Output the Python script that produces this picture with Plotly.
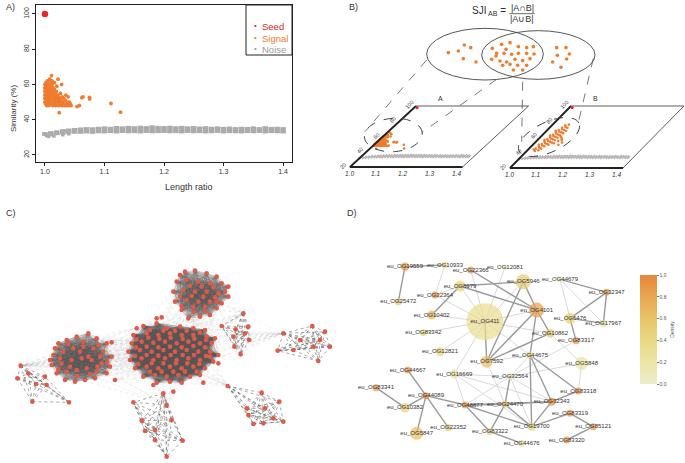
import math
import plotly.graph_objects as go

W, H = 685, 463
FONT = "Liberation Sans, Arial, Helvetica, sans-serif"
SEED_C = "#E8262B"
SIG_C = "#EF7C2F"
NOISE_C = "#ABABAB"


def xdom(a, b):
    return [a / W, b / W]


def ydom(top, bottom):
    return [1 - bottom / H, 1 - top / H]


# ---------------- Panel A data ----------------
seed_x = [1.0]
seed_y = [100]

signal_pts = [
    (1.000, 50), (1.000, 52), (1.000, 54), (1.000, 56), (1.000, 58), (1.000, 60), (1.001, 49), (1.001, 53),
    (1.001, 57), (1.002, 51), (1.002, 55), (1.002, 59), (1.002, 61), (1.003, 48), (1.003, 50), (1.003, 53),
    (1.003, 56), (1.004, 52), (1.004, 58), (1.004, 62), (1.005, 49), (1.005, 54), (1.005, 57), (1.006, 51),
    (1.006, 55), (1.006, 60), (1.007, 48), (1.007, 53), (1.007, 58), (1.008, 50), (1.008, 56), (1.008, 63),
    (1.009, 52), (1.009, 54), (1.009, 61), (1.010, 49), (1.010, 57), (1.010, 59), (1.011, 51), (1.011, 55),
    (1.011, 65), (1.012, 53), (1.012, 60), (1.012, 62), (1.013, 48), (1.013, 56), (1.014, 50), (1.014, 58),
    (1.015, 52), (1.015, 54), (1.016, 49), (1.016, 57), (1.016, 61), (1.017, 51), (1.017, 55), (1.018, 48),
    (1.018, 53), (1.019, 50), (1.019, 56), (1.020, 52), (1.020, 59), (1.021, 49), (1.021, 54), (1.022, 51),
    (1.022, 63), (1.023, 48), (1.023, 53), (1.024, 44), (1.024, 50), (1.025, 52), (1.026, 49), (1.026, 55),
    (1.027, 51), (1.028, 48), (1.028, 60), (1.029, 53), (1.030, 50), (1.031, 49), (1.032, 52), (1.033, 48),
    (1.034, 51), (1.035, 54), (1.036, 49), (1.037, 48), (1.038, 50), (1.039, 53), (1.040, 48), (1.041, 50),
    (1.043, 49), (1.044, 48), (1.054, 47.5), (1.058, 48), (1.062, 52.5), (1.064, 53), (1.075, 52.7),
    (1.075, 51.8), (1.111, 49.2), (1.127, 44.3),
]
signal_x = [p[0] for p in signal_pts]
signal_y = [p[1] for p in signal_pts]

noise_x = [1.00, 1.01, 1.02, 1.03, 1.04, 1.05, 1.06, 1.07, 1.08, 1.09, 1.10, 1.11, 1.12, 1.13,
           1.14, 1.15, 1.16, 1.17, 1.18, 1.19, 1.20, 1.21, 1.22, 1.23, 1.24, 1.25, 1.26, 1.27,
           1.28, 1.29, 1.30, 1.31, 1.32, 1.33, 1.34, 1.35, 1.36, 1.37, 1.38, 1.39, 1.40]
noise_lo = [30.8, 31.0, 31.2, 31.5, 31.8, 32.0, 32.0, 32.2, 32.0, 32.3, 32.2, 32.4, 32.2, 32.5,
            32.3, 32.4, 32.2, 32.5, 32.3, 32.4, 32.5, 32.3, 32.4, 32.2, 32.5, 32.3, 32.4, 32.2,
            32.3, 32.5, 32.2, 32.4, 32.3, 32.2, 32.4, 32.3, 32.5, 32.2, 32.4, 32.3, 32.2]
noise_hi = [33.0, 33.5, 34.0, 34.6, 35.0, 35.3, 35.6, 35.8, 35.7, 36.0, 36.2, 36.0, 36.4, 36.2,
            36.5, 36.3, 36.6, 36.4, 36.8, 36.5, 36.4, 36.6, 36.3, 36.5, 36.2, 36.4, 36.1, 36.3,
            36.0, 36.2, 35.9, 36.1, 35.8, 36.0, 35.9, 36.2, 35.8, 36.3, 35.9, 36.0, 35.8]
noise_pts_x = [1.003, 1.006, 1.010, 1.015, 1.020, 1.030, 1.035, 1.040]
noise_pts_y = [31.0, 30.5, 31.5, 30.8, 32.3, 31.5, 33.5, 32.0]

# second genome (panel B, right sketch)
signal_b_pts = [
    (1.030, 42), (1.040, 43), (1.025, 45), (1.035, 46), (1.045, 45), (1.028, 48), (1.038, 49), (1.048, 48),
    (1.058, 50), (1.030, 51), (1.040, 52), (1.050, 51), (1.062, 53), (1.072, 52), (1.032, 54), (1.042, 55),
    (1.052, 54), (1.064, 56), (1.080, 55), (1.034, 57), (1.044, 58), (1.054, 57), (1.066, 59), (1.085, 58),
    (1.036, 60), (1.046, 61), (1.056, 60), (1.068, 62), (1.038, 63), (1.048, 64), (1.058, 63), (1.070, 65),
    (1.040, 66), (1.050, 67), (1.060, 66), (1.072, 68), (1.042, 69), (1.052, 70), (1.062, 69), (1.046, 72),
    (1.056, 73), (1.066, 72), (1.050, 75), (1.060, 76), (1.090, 56), (1.095, 50), (1.020, 44), (1.022, 50),
    (1.026, 56), (1.030, 62), (1.034, 68), (1.100, 53), (1.076, 60),
]
signal_b_x = [p[0] for p in signal_b_pts]
signal_b_y = [p[1] for p in signal_b_pts]

a_xticks = [1.0, 1.1, 1.2, 1.3, 1.4]
a_yticks = [20, 40, 60, 80, 100]
legend_labels = ["Seed", "Signal", "Noise"]
legend_colors = [SEED_C, SIG_C, "#9A9A9A"]

# ---------------- Panel B diagram (sketch units, 3 per pixel) ----------------
venn_x = [355, 385, 403, 422, 400, 438,
          487, 515, 540, 565, 590, 610, 500, 522, 545, 565, 590, 612, 485, 510, 530, 555, 578, 600,
          518, 540, 563, 590, 550, 578, 498, 528,
          680, 708, 682, 718, 668, 710, 693]
venn_y = [158, 153, 135, 143, 176, 186,
          145, 133, 128, 140, 143, 140, 160, 160, 163, 160, 160, 162, 178, 183, 186, 178, 182, 176,
          196, 193, 196, 196, 210, 210, 168, 148,
          143, 143, 166, 162, 186, 177, 202]

# ---------------- Panel C data (layout coordinates) ----------------
c_left = [(175, 430), (200, 420), (230, 410), (265, 400), (290, 415), (320, 430), (160, 465), (190, 455),
          (220, 445), (250, 440), (280, 445), (310, 455), (335, 470), (155, 495), (185, 490), (215, 480),
          (245, 475), (275, 480), (305, 490), (330, 500), (170, 520), (200, 515), (230, 510), (260, 505),
          (290, 515), (320, 520), (195, 540), (225, 545), (255, 540), (285, 535), (240, 455), (265, 470),
          (210, 500), (300, 470), (180, 475), (205, 432), (250, 425), (295, 435), (175, 508), (232, 528),
          (292, 500), (322, 485), (165, 445), (270, 522), (150, 480)]
c_main = [(430, 378), (470, 370), (500, 385), (540, 380), (580, 385), (615, 390),
          (400, 405), (440, 400), (475, 405), (510, 400), (545, 405), (580, 405), (620, 410), (645, 415),
          (395, 430), (425, 425), (460, 428), (495, 425), (530, 430), (565, 425), (600, 430), (635, 430),
          (385, 455), (420, 450), (455, 455), (490, 450), (525, 455), (560, 450), (595, 455), (630, 455),
          (655, 465), (390, 480), (425, 475), (460, 480), (495, 475), (530, 480), (565, 475), (600, 480),
          (640, 485), (405, 505), (440, 500), (475, 505), (510, 500), (545, 505), (580, 500), (615, 505),
          (430, 530), (465, 525), (500, 530), (535, 525), (570, 530), (600, 525), (470, 548), (510, 545),
          (545, 548), (450, 390), (490, 392), (525, 392), (560, 392), (600, 398), (410, 418), (445, 413),
          (478, 416), (512, 413), (548, 417), (583, 416), (618, 420), (408, 442), (440, 440), (475, 442),
          (510, 440), (545, 442), (580, 438), (615, 442), (405, 468), (440, 465), (475, 467), (512, 465),
          (548, 465), (582, 465), (618, 468), (415, 492), (455, 490), (490, 490), (528, 490), (562, 490),
          (598, 492), (630, 470), (450, 515), (485, 515), (520, 515), (555, 515), (590, 515)]
c_upper = [(555, 215), (585, 212), (620, 220), (650, 230), (530, 245), (560, 240), (595, 245), (630, 250),
           (665, 250), (685, 260), (520, 275), (550, 270), (585, 275), (620, 275), (655, 280), (685, 290),
           (525, 305), (560, 300), (595, 305), (630, 305), (665, 310), (545, 330), (580, 335), (615, 335),
           (650, 325), (565, 355), (600, 350), (630, 345), (570, 258), (605, 260), (640, 262), (540, 290),
           (575, 288), (610, 290), (645, 292), (545, 318), (580, 320), (615, 320), (650, 305), (540, 225),
           (675, 275)]
c_s1 = [(730, 340), (745, 380), (748, 420), (722, 463), (703, 440), (707, 388), (665, 378), (700, 410), (735, 400)]
c_s2 = [(850, 400), (937, 378), (975, 395), (990, 440), (940, 440), (955, 483), (880, 450), (833, 452),
        (900, 420), (960, 420)]
c_s3 = [(62, 497), (52, 535), (97, 605), (207, 607), (108, 552), (135, 530), (140, 555), (85, 520)]
c_s4 = [(500, 615), (425, 662), (515, 660), (435, 693), (465, 720), (548, 722), (500, 770), (490, 580),
        (400, 607), (465, 690)]
c_s5 = [(683, 558), (785, 578), (740, 625), (838, 605), (795, 625), (760, 672), (790, 670), (850, 665),
        (820, 655), (745, 645)]
c_loose = [(345, 540), (655, 490), (610, 548), (520, 575), (460, 555), (335, 427), (410, 385), (470, 355),
           (485, 352)]
c_dense = {"left": c_left, "main": c_main, "upper": c_upper}
c_sparse = {"s1": c_s1, "s2": c_s2, "s3": c_s3, "s4": c_s4, "s5": c_s5}
c_links = [("left", "main"), ("main", "upper"), ("main", "s1"), ("s1", "s2"), ("main", "s4"),
           ("main", "s5"), ("left", "s3"), ("main", "s3"), ("upper", "s1"), ("main", "s2"),
           ("left", "s4"), ("loose", "main")]

# ---------------- Panel D data ----------------
d_names = ["eu_OG19559", "eu_OG10933", "eu_OG22366", "eu_OG12081", "eu_OG5946", "eu_OG8979",
           "eu_OG32364", "eu_OG25472", "eu_OG10402", "eu_OG411", "eu_OG4101", "eu_OG83342",
           "eu_OG44679", "eu_OG32347", "eu_OG6476", "eu_OG17967", "eu_OG10862", "eu_OG83317",
           "eu_OG12821", "eu_OG7592", "eu_OG44675", "eu_OG5848", "eu_OG16669", "eu_OG32564",
           "eu_OG44667", "eu_OG83341", "eu_OG44089", "eu_OG10382", "eu_OG48877", "eu_OG24470",
           "eu_OG32343", "eu_OG83318", "eu_OG83319", "eu_OG85121", "eu_OG83320", "eu_OG19700",
           "eu_OG83322", "eu_OG44676", "eu_OG22352", "eu_OG5847"]
d_x = [165, 285, 362, 465, 520, 330, 255, 145, 245, 405, 560, 220, 630, 770, 660, 760, 600, 678, 270, 410,
       540, 695, 313, 480, 173, 78, 228, 165, 345, 465, 605, 685, 660, 730, 650, 545, 420, 515, 295, 200]
d_y = [50, 45, 60, 52, 95, 108, 135, 155, 195, 215, 180, 248, 88, 127, 205, 220, 250, 272, 305, 335,
       315, 340, 372, 380, 360, 413, 437, 473, 465, 463, 455, 423, 490, 530, 570, 530, 545, 580, 533, 550]
d_size = [8.5, 7, 7, 6, 15, 11, 7, 7, 9, 37, 15, 7, 6, 7, 11, 7, 9, 7, 9, 12,
          7, 13, 9, 6, 7, 7, 7, 10, 7, 7, 8, 7, 7, 7, 7, 8, 7, 7, 7, 13]
d_density = [0.9, 0.3, 0.9, 0.1, 0.55, 0.45, 0.9, 0.6, 0.7, 0.35, 0.85, 0.45, 0.2, 0.9, 0.5, 0.3, 0.55,
             0.95, 0.45, 0.65, 0.45, 0.25, 0.25, 0.2, 0.9, 0.9, 0.95, 0.45, 0.85, 0.55, 0.95, 0.9, 0.9,
             0.9, 0.9, 0.45, 0.45, 0.25, 0.55, 0.65]
d_edges_dark = [
    ("eu_OG19559", "eu_OG25472"), ("eu_OG19559", "eu_OG10933"), ("eu_OG8979", "eu_OG10402"),
    ("eu_OG8979", "eu_OG5946"), ("eu_OG8979", "eu_OG4101"), ("eu_OG22366", "eu_OG4101"),
    ("eu_OG5946", "eu_OG4101"), ("eu_OG5946", "eu_OG7592"), ("eu_OG4101", "eu_OG7592"),
    ("eu_OG4101", "eu_OG44675"), ("eu_OG4101", "eu_OG10862"), ("eu_OG411", "eu_OG7592"),
    ("eu_OG10862", "eu_OG7592"), ("eu_OG44679", "eu_OG32347"), ("eu_OG32347", "eu_OG6476"),
    ("eu_OG32347", "eu_OG17967"), ("eu_OG6476", "eu_OG17967"), ("eu_OG6476", "eu_OG83317"),
    ("eu_OG44675", "eu_OG32343"), ("eu_OG44675", "eu_OG19700"), ("eu_OG44675", "eu_OG83318"),
    ("eu_OG32564", "eu_OG24470"), ("eu_OG44667", "eu_OG44089"), ("eu_OG83341", "eu_OG10382"),
    ("eu_OG44089", "eu_OG10382"), ("eu_OG44089", "eu_OG5847"), ("eu_OG44089", "eu_OG22352"),
    ("eu_OG44089", "eu_OG48877"), ("eu_OG48877", "eu_OG32343"), ("eu_OG48877", "eu_OG24470"),
    ("eu_OG48877", "eu_OG83322"), ("eu_OG48877", "eu_OG19700"), ("eu_OG24470", "eu_OG32343"),
    ("eu_OG24470", "eu_OG19700"), ("eu_OG24470", "eu_OG83322"), ("eu_OG32343", "eu_OG83318"),
    ("eu_OG32343", "eu_OG19700"), ("eu_OG19700", "eu_OG83319"), ("eu_OG83319", "eu_OG85121"),
    ("eu_OG85121", "eu_OG83320"), ("eu_OG83322", "eu_OG44676"),
]
d_edges_light = [
    ("eu_OG10933", "eu_OG32364"), ("eu_OG8979", "eu_OG411"), ("eu_OG22366", "eu_OG411"),
    ("eu_OG12081", "eu_OG411"), ("eu_OG5946", "eu_OG411"), ("eu_OG4101", "eu_OG411"),
    ("eu_OG32364", "eu_OG411"), ("eu_OG10402", "eu_OG411"), ("eu_OG83342", "eu_OG411"),
    ("eu_OG12821", "eu_OG411"), ("eu_OG411", "eu_OG10862"), ("eu_OG411", "eu_OG16669"),
    ("eu_OG411", "eu_OG44675"), ("eu_OG10862", "eu_OG5848"), ("eu_OG44679", "eu_OG6476"),
    ("eu_OG44679", "eu_OG17967"), ("eu_OG83317", "eu_OG32564"), ("eu_OG5848", "eu_OG32564"),
    ("eu_OG5848", "eu_OG83318"), ("eu_OG44675", "eu_OG7592"), ("eu_OG44675", "eu_OG32564"),
    ("eu_OG32564", "eu_OG19700"), ("eu_OG32564", "eu_OG32343"), ("eu_OG32564", "eu_OG48877"),
    ("eu_OG32564", "eu_OG16669"), ("eu_OG16669", "eu_OG48877"), ("eu_OG16669", "eu_OG19700"),
    ("eu_OG16669", "eu_OG32343"), ("eu_OG7592", "eu_OG24470"), ("eu_OG8979", "eu_OG32364"),
]
d_colorscale = [[0.0, "#EEEDCA"], [0.2, "#ECE5A6"], [0.4, "#E9D884"], [0.6, "#E8C46A"],
                [0.8, "#E8A752"], [1.0, "#E8853B"]]

fig = go.Figure()

# ================= Panel A =================
band_x, band_y = [], []
for xv, lo, hi in zip(noise_x, noise_lo, noise_hi):
    band_x += [xv, xv, None]
    band_y += [lo, hi, None]
fig.add_trace(go.Scatter(x=band_x, y=band_y, mode="lines", xaxis="x", yaxis="y", name="Noise",
                         line=dict(color=NOISE_C, width=5.6), hoverinfo="skip"))
fig.add_trace(go.Scatter(x=noise_pts_x, y=noise_pts_y, mode="markers", xaxis="x", yaxis="y",
                         marker=dict(color=NOISE_C, size=3.5, symbol="square"), name="Noise"))
fig.add_trace(go.Scatter(x=signal_x, y=signal_y, mode="markers", xaxis="x", yaxis="y",
                         marker=dict(color=SIG_C, size=3.8), name="Signal"))
fig.add_trace(go.Scatter(x=seed_x, y=seed_y, mode="markers", xaxis="x", yaxis="y",
                         marker=dict(color=SEED_C, size=6.5), name="Seed"))

# ================= Panel B mini sketches =================
mini_specs = [
    ("3", signal_x, signal_y, 350, 167, 268, 66 / 80, 61 / 80, (338, 545, 95, 178), "A"),
    ("4", signal_b_x, signal_b_y, 510, 168, 269, 61 / 80, 62 / 80, (498, 685, 95, 178), "B"),
]
frame_x = [1.0, 1.42]
frame_y = [20, 100]
annotations = []
layout_axes = {}
for suf, sx, sy, ox, oy, kx, dxy, dyy, dom, lab in mini_specs:
    shear = dxy / kx
    xr = [1.0 + (dom[0] - ox) / kx, 1.0 + (dom[1] - ox) / kx]
    yr = [20 + (oy - dom[3]) / dyy, 20 + (oy - dom[2]) / dyy]
    layout_axes["xaxis" + suf] = dict(domain=xdom(dom[0], dom[1]), range=xr, visible=False,
                                      anchor="y" + suf, fixedrange=True)
    layout_axes["yaxis" + suf] = dict(domain=ydom(dom[2], dom[3]), range=yr, visible=False,
                                      anchor="x" + suf, fixedrange=True)

    def tf(x, y, s=shear):
        return x + (y - 20) * s

    bx, by = [], []
    for xv, lo, hi in zip(noise_x, noise_lo, noise_hi):
        bx += [tf(xv, lo), tf(xv, hi), None]
        by += [lo, hi, None]
    fig.add_trace(go.Scatter(x=bx, y=by, mode="lines", xaxis="x" + suf, yaxis="y" + suf,
                             showlegend=False, line=dict(color="#B8B8B8", width=2.6), hoverinfo="skip"))
    fig.add_trace(go.Scatter(x=[tf(a, b) for a, b in zip(sx, sy)], y=sy, mode="markers",
                             xaxis="x" + suf, yaxis="y" + suf, showlegend=False,
                             marker=dict(color=SIG_C, size=2.6), hoverinfo="skip"))
    x0, x1 = frame_x
    y0, y1 = frame_y
    fig.add_trace(go.Scatter(x=[tf(x0, y1), tf(x1, y1), tf(x1, y0)], y=[y1, y1, y0], mode="lines",
                             xaxis="x" + suf, yaxis="y" + suf, showlegend=False,
                             line=dict(color="#333", width=0.8), hoverinfo="skip"))
    fig.add_trace(go.Scatter(x=[tf(x0, y1), tf(x0, y0), tf(x1, y0)], y=[y1, y0, y0], mode="lines",
                             xaxis="x" + suf, yaxis="y" + suf, showlegend=False,
                             line=dict(color="#222", width=1.8), hoverinfo="skip"))
    fig.add_trace(go.Scatter(x=[tf(seed_x[0] + 0.01, seed_y[0] - 2)], y=[seed_y[0] - 2], mode="markers",
                             xaxis="x" + suf, yaxis="y" + suf, showlegend=False,
                             marker=dict(color=SEED_C, size=3.2), hoverinfo="skip"))
    for yt in a_yticks:
        annotations.append(dict(x=tf(1.0, yt), y=yt, xref="x" + suf, yref="y" + suf, text=str(yt),
                                showarrow=False, textangle=-48, xshift=-7, yshift=1,
                                font=dict(size=5.5, color="#333")))
    for xt in a_xticks:
        annotations.append(dict(x=xt, y=20, xref="x" + suf, yref="y" + suf,
                                text="<i>%.1f</i>" % xt, showarrow=False, yshift=-6, xshift=-1,
                                font=dict(size=6.5, color="#333")))
    annotations.append(dict(x=tf(1.0 + (x1 - x0) * 0.22, y1), y=y1, xref="x" + suf, yref="y" + suf,
                            text=lab, showarrow=False, yshift=8, font=dict(size=7, color="#333")))

# ================= Panel B diagram (sketch axis x2) =================
fig.add_trace(go.Scatter(x=venn_x, y=venn_y, mode="markers", xaxis="x2", yaxis="y2", showlegend=False,
                         marker=dict(color=SIG_C, size=3.6), hoverinfo="skip"))


def ellipse_path(cx, cy, rx, ry, ang):
    k = 0.5523
    c, s = math.cos(math.radians(ang)), math.sin(math.radians(ang))

    def P(x, y):
        return "%.2f,%.2f" % (cx + x * c - y * s, cy - (x * s + y * c))

    segs = [[(rx, k * ry), (k * rx, ry), (0, ry)], [(-k * rx, ry), (-rx, k * ry), (-rx, 0)],
            [(-rx, -k * ry), (-k * rx, -ry), (0, -ry)], [(k * rx, -ry), (rx, -k * ry), (rx, 0)]]
    d = "M" + P(rx, 0)
    for sg in segs:
        d += " C" + " ".join(P(*p) for p in sg)
    return d + " Z"


dash_line = dict(color="#555", width=0.8, dash="dash")
ell_line = dict(color="#444", width=1.0, dash="dash")
shapes = [
    dict(type="circle", xref="x2", yref="y2", x0=290, x1=640, y0=85, y1=240,
         line=dict(color="#444", width=0.9)),
    dict(type="circle", xref="x2", yref="y2", x0=455, x1=795, y0=92, y1=238,
         line=dict(color="#444", width=0.9)),
    dict(type="path", xref="x2", yref="y2", path=ellipse_path(190, 405, 87, 50, 4), line=ell_line),
    dict(type="path", xref="x2", yref="y2", path=ellipse_path(657, 411, 99, 45, 25), line=ell_line),
    dict(type="line", xref="x2", yref="y2", x0=290, y0=180, x1=105, y1=395, line=dash_line),
    dict(type="line", xref="x2", yref="y2", x0=500, y0=238, x1=275, y1=398, line=dash_line),
    dict(type="line", xref="x2", yref="y2", x0=578, y0=245, x1=575, y1=425, line=dash_line),
    dict(type="line", xref="x2", yref="y2", x0=790, y0=175, x1=745, y1=368, line=dash_line),
    dict(type="line", xref="x2", yref="y2", x0=538, y0=41, x1=614, y1=41,
         line=dict(color="#444", width=0.8)),
    # panel A legend box
    dict(type="rect", xref="paper", yref="paper", x0=246 / W, x1=292 / W, y0=1 - 55 / H, y1=1 - 5 / H,
         line=dict(color="#222", width=1), fillcolor="white", layer="below"),
]
annotations += [
    dict(x=478, y=34, xref="x2", yref="y2", text="SJI<sub> AB</sub> =", showarrow=False,
         font=dict(size=10, color="#333")),
    dict(x=576, y=24, xref="x2", yref="y2", text="|A∩B|", showarrow=False, font=dict(size=9, color="#333")),
    dict(x=576, y=58, xref="x2", yref="y2", text="|A∪B|", showarrow=False, font=dict(size=9, color="#333")),
]
for i, (lab, col) in enumerate(zip(legend_labels, legend_colors)):
    yy = 1 - (19.5 + 11.3 * i) / H
    annotations.append(dict(x=256 / W, y=yy, xref="paper", yref="paper", text="•", showarrow=False,
                            font=dict(size=8, color=col)))
    annotations.append(dict(x=259.5 / W, y=yy, xref="paper", yref="paper", text=lab, showarrow=False,
                            xanchor="left", font=dict(size=9.5, color=col)))

# ================= Panel C =================
def pairs_all(nodes):
    ex, ey = [], []
    for i in range(len(nodes)):
        for j in range(i + 1, len(nodes)):
            ex += [nodes[i][0], nodes[j][0], None]
            ey += [nodes[i][1], nodes[j][1], None]
    return ex, ey


all_groups = dict(c_dense)
all_groups.update(c_sparse)
all_groups["loose"] = c_loose
lx, ly = [], []
for a, b in c_links:
    ga, gb = all_groups[a], all_groups[b]
    for p in ga[::4]:
        for q in gb[::12]:
            lx += [p[0], q[0], None]
            ly += [p[1], q[1], None]
fig.add_trace(go.Scatter(x=lx, y=ly, mode="lines", xaxis="x5", yaxis="y5", showlegend=False,
                         line=dict(color="rgba(130,130,130,0.18)", width=0.5, dash="dot"),
                         hoverinfo="skip"))
for nodes in c_sparse.values():
    ex, ey = pairs_all(nodes)
    fig.add_trace(go.Scatter(x=ex, y=ey, mode="lines", xaxis="x5", yaxis="y5", showlegend=False,
                             line=dict(color="rgba(60,60,60,0.75)", width=0.6, dash="dot"),
                             hoverinfo="skip"))
for nodes in c_dense.values():
    ex, ey = pairs_all(nodes)
    fig.add_trace(go.Scatter(x=ex, y=ey, mode="lines", xaxis="x5", yaxis="y5", showlegend=False,
                             line=dict(color="rgba(88,88,88,0.35)", width=0.5), hoverinfo="skip"))
c_all = [p for g in all_groups.values() for p in g]
fig.add_trace(go.Scatter(x=[p[0] for p in c_all], y=[p[1] for p in c_all], mode="markers",
                         xaxis="x5", yaxis="y5", showlegend=False,
                         marker=dict(color="#E05A48", size=4.6), hoverinfo="skip"))

# ================= Panel D =================
d_pos = {n: (x, y) for n, x, y in zip(d_names, d_x, d_y)}
for edges, col, wd in [(d_edges_light, "#DADADA", 1.0), (d_edges_dark, "#9A9A9A", 1.4)]:
    ex, ey = [], []
    for a, b in edges:
        ex += [d_pos[a][0], d_pos[b][0], None]
        ey += [d_pos[a][1], d_pos[b][1], None]
    fig.add_trace(go.Scatter(x=ex, y=ey, mode="lines", xaxis="x6", yaxis="y6", showlegend=False,
                             line=dict(color=col, width=wd), hoverinfo="skip"))
fig.add_trace(go.Scatter(
    x=d_x, y=d_y, mode="markers", xaxis="x6", yaxis="y6", showlegend=False,
    marker=dict(size=d_size, color=d_density, colorscale=d_colorscale, cmin=0, cmax=1,
                line=dict(width=0), showscale=True,
                colorbar=dict(x=640 / W, xanchor="left", y=1 - 329.5 / H, yanchor="middle",
                              len=109 / H, lenmode="fraction", thickness=17, thicknessmode="pixels",
                              xpad=0, ypad=0, outlinewidth=0, ticks="outside", ticklen=2,
                              tickcolor="#777", tickvals=[0, 0.2, 0.4, 0.6, 0.8, 1.0],
                              ticktext=["0.0", "0.2", "0.4", "0.6", "0.8", "1.0"],
                              tickfont=dict(size=5, color="#555"),
                              title=dict(text="Density", side="right", font=dict(size=5, color="#555")))),
    hoverinfo="skip"))
fig.add_trace(go.Scatter(x=d_x, y=d_y, mode="text", text=d_names, xaxis="x6", yaxis="y6",
                         showlegend=False, textfont=dict(size=6, color="#333"), hoverinfo="skip"))

# ================= Layout =================
axis_a = dict(showline=True, mirror=True, linecolor="#222", linewidth=1, ticks="outside", ticklen=3,
              tickcolor="#222", tickfont=dict(size=7, color="#333"), showgrid=False, zeroline=False,
              fixedrange=True, automargin=False)
layout_axes["xaxis"] = dict(axis_a, domain=xdom(36, 292), range=[0.985, 1.415], tickvals=a_xticks,
                            ticktext=["%.1f" % v for v in a_xticks], anchor="y")
layout_axes["yaxis"] = dict(axis_a, domain=ydom(5, 162), range=[16.0, 105.1], tickvals=a_yticks,
                            tickangle=-90, anchor="x")
layout_axes["xaxis2"] = dict(domain=xdom(330, 685), range=[0, 1065], visible=False, anchor="y2", fixedrange=True)
layout_axes["yaxis2"] = dict(domain=ydom(0, 200), range=[600, 0], visible=False, anchor="x2", fixedrange=True)
layout_axes["xaxis5"] = dict(domain=xdom(0, 340), range=[0, 1020], visible=False, anchor="y5", fixedrange=True)
layout_axes["yaxis5"] = dict(domain=ydom(200, 463), range=[789, 0], visible=False, anchor="x5", fixedrange=True)
layout_axes["xaxis6"] = dict(domain=xdom(350, 685), range=[0, 1005], visible=False, anchor="y6", fixedrange=True)
layout_axes["yaxis6"] = dict(domain=ydom(250, 463), range=[639, 0], visible=False, anchor="x6", fixedrange=True)

annotations += [
    dict(x=163 / W, y=1 - 187 / H, xref="paper", yref="paper", text="Length ratio", showarrow=False,
         font=dict(size=9, color="#333")),
    dict(x=7 / W, y=1 - 83 / H, xref="paper", yref="paper", text="Similarity (%)", showarrow=False,
         textangle=-90, font=dict(size=8, color="#333")),
]
for lab, px, py in [("A)", 4, 7), ("B)", 347, 7), ("C)", 4, 213), ("D)", 345, 213)]:
    annotations.append(dict(x=px / W, y=1 - py / H, xref="paper", yref="paper", text=lab,
                            showarrow=False, xanchor="left", yanchor="middle",
                            font=dict(size=9, color="#333")))

fig.update_layout(
    width=W, height=H, margin=dict(l=0, r=0, t=0, b=0, autoexpand=False),
    paper_bgcolor="white", plot_bgcolor="rgba(0,0,0,0)",
    font=dict(family=FONT, color="#333"),
    showlegend=False,
    shapes=shapes, annotations=annotations,
    **layout_axes,
)
fig.write_html("out.html", config={"displayModeBar": False},
               post_script="document.body.style.margin='0px';document.body.style.overflow='hidden';")
